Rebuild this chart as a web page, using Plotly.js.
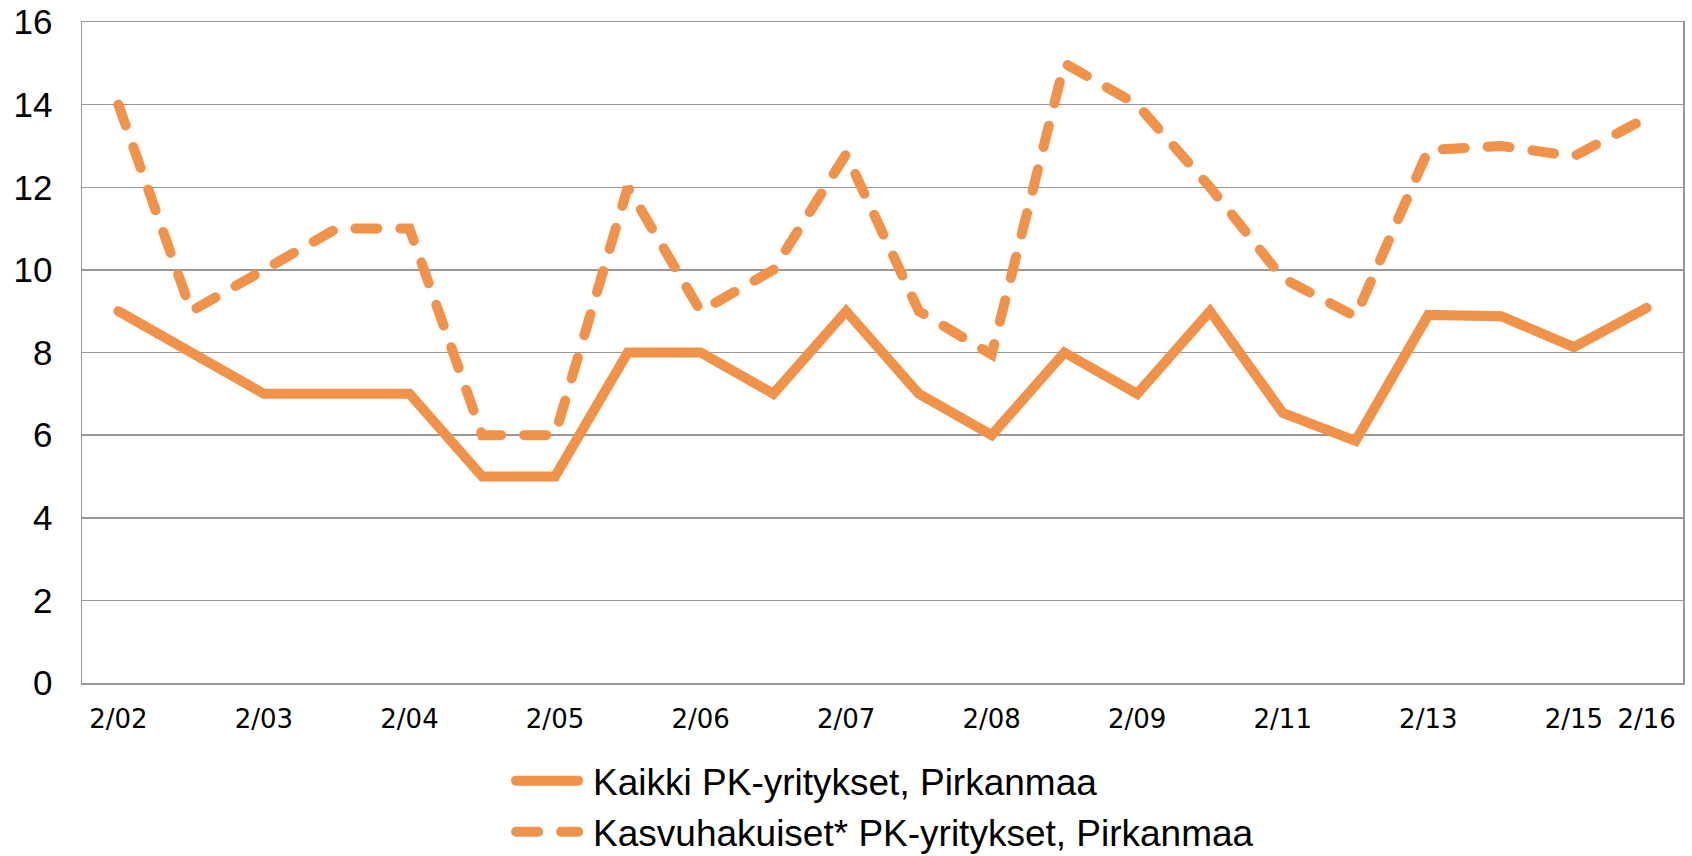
<!DOCTYPE html>
<html>
<head>
<meta charset="utf-8">
<script src="https://cdn.plot.ly/plotly-3.0.1.min.js"></script>
<style>
  html, body { margin: 0; padding: 0; background: #fff; }
  #chart { width: 1692px; height: 856px; }
  .scatterlayer .js-line, .legend .js-line { stroke-linecap: round !important; }
</style>
</head>
<body>
<div id="chart"></div>
<script>
// Categories (half-year points, every other one labelled)
const categories = ["2/02","8/02","2/03","8/03","2/04","8/04","2/05","8/05","2/06","8/06",
                    "2/07","8/07","2/08","8/08","2/09","2/10","2/11","2/12","2/13","2/14","2/15","2/16"];
const tickLabels = ["2/02","2/03","2/04","2/05","2/06","2/07","2/08","2/09","2/11","2/13","2/15","2/16"];

const seriesAllName = "Kaikki PK-yritykset, Pirkanmaa";
const seriesAll = [9, 8, 7, 7, 7, 5, 5, 8, 8, 7,
                   9, 7, 6, 8, 7, 9, 6.54, 5.86, 8.91, 8.88, 8.13, 9.08];

const seriesGrowthName = "Kasvuhakuiset* PK-yritykset, Pirkanmaa";
const seriesGrowth = [14, 9, 10, 11, 11, 6, 6, 12, 9, 10,
                      12.8, 9, 7.95, 15, 14, 12, 9.8, 8.87, 12.9, 13, 12.75, 13.68];

const yTicks = [0, 2, 4, 6, 8, 10, 12, 14, 16];

const lineColor = "#F0924A";
const gridColor = "#989898";

const traces = [
  { type: "scatter", mode: "lines", name: seriesAllName, x: categories, y: seriesAll,
    line: { color: lineColor, width: 10 } },
  { type: "scatter", mode: "lines", name: seriesGrowthName, x: categories, y: seriesGrowth,
    line: { color: lineColor, width: 10, dash: "22px,23px" } }
];

const layout = {
  width: 1692, height: 856,
  margin: { l: 82, r: 9, t: 22, b: 173, autoexpand: false },
  paper_bgcolor: "#fff", plot_bgcolor: "#fff",
  showlegend: true,
  legend: {
    x: 0.268, y: -0.1015, xanchor: "left", yanchor: "top",
    orientation: "v",
    font: { family: "Liberation Sans, Arial, sans-serif", size: 37, color: "#000" },
    itemwidth: 72, tracegroupgap: 0, bgcolor: "rgba(0,0,0,0)"
  },
  xaxis: {
    type: "category",
    categoryorder: "array", categoryarray: categories,
    range: [-0.5, categories.length - 0.5],
    tickmode: "array",
    tickvals: tickLabels.map(l => categories.indexOf(l)),
    ticktext: tickLabels,
    showgrid: false, zeroline: false,
    showline: true, mirror: true, linecolor: gridColor, linewidth: 1.5,
    ticks: "", ticklabelstandoff: 12,
    tickfont: { family: "DejaVu Sans, sans-serif", size: 26, color: "#000" }
  },
  yaxis: {
    range: [0, 16],
    tickmode: "array", tickvals: yTicks, ticktext: yTicks.map(String),
    showgrid: true, gridcolor: gridColor, gridwidth: 1.5,
    zeroline: false,
    showline: true, mirror: true, linecolor: gridColor, linewidth: 1.5,
    ticks: "", ticklabelstandoff: 21,
    tickfont: { family: "Liberation Sans, Arial, sans-serif", size: 35, color: "#000" }
  }
};

Plotly.newPlot("chart", traces, layout, { displayModeBar: false, staticPlot: true }).then(function (gd) {
  // Lengthen legend line samples to match the reference
  document.querySelectorAll(".legend .legendlines path.js-line").forEach(function (p) {
    p.setAttribute("d", "M5,0h62");
  });
});
</script>
</body>
</html>
